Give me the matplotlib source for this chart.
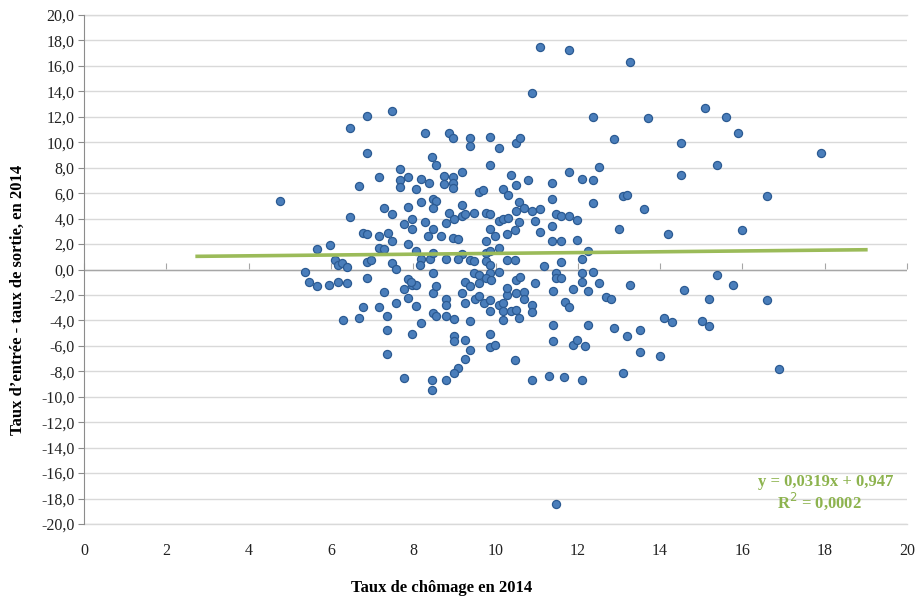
import numpy as np
import matplotlib
matplotlib.use('Agg')
import matplotlib.pyplot as plt
from matplotlib.ticker import FuncFormatter, MultipleLocator

# Taux de chômage en 2014 (x) / taux d'entrée - taux de sortie (y)
chomage = [
    7.48, 6.88, 6.47, 8.28, 6.88, 8.46, 8.56, 7.69, 7.18, 7.87, 7.69, 8.20, 8.38, 7.69, 6.68, 8.07,
    4.77, 8.48, 8.56, 8.20, 8.48, 7.87, 7.28, 7.48, 6.47, 7.97, 7.77, 8.28, 7.97, 8.48, 6.78, 6.88,
    7.38, 7.18, 8.36, 7.48, 7.87, 5.97, 5.66, 7.18, 7.28, 8.07, 6.09, 6.17, 6.28, 6.38, 6.88, 6.98,
    7.48, 8.20, 8.40, 8.48, 8.16, 5.38,
    7.57, 5.47, 5.66, 5.95, 6.17, 6.38, 6.88, 8.48, 7.87, 7.98, 8.07, 7.95, 7.77, 7.28, 7.57, 7.87,
    8.07, 8.48, 8.56, 6.78, 7.18, 7.37, 6.68, 6.29, 8.48, 8.56, 8.18, 7.37, 7.97, 7.37, 7.77, 8.46,
    8.46,
    11.09, 11.78, 10.89, 12.38, 8.87, 8.96, 9.37, 9.37, 9.87, 10.08, 10.49, 10.60, 9.87, 9.18, 8.76,
    8.96, 8.96, 8.76, 8.96, 10.38, 10.49, 10.78, 11.38, 11.78, 12.10, 9.59, 9.69, 10.19, 10.30, 10.58,
    11.38, 9.18, 10.70, 10.89, 11.09, 8.88, 8.98, 9.18, 9.27, 9.47, 9.77, 9.87, 10.08, 10.19, 10.30,
    10.49, 10.58, 10.97, 11.47, 11.59, 11.78, 11.98, 8.79, 8.68, 8.96, 9.08, 9.87, 9.98, 10.27, 10.48,
    11.09, 11.38, 9.77, 10.08, 11.38, 11.59, 11.98, 9.18, 9.77, 9.87, 12.26, 8.79, 9.08, 9.38, 9.47,
    9.77, 9.87, 10.27, 10.48, 11.19, 11.59, 12.10,
    9.47, 9.59, 9.87, 10.08, 9.77, 9.89, 10.49, 10.60, 10.97, 11.47, 11.47, 11.59, 12.10, 12.10, 8.79,
    8.79, 9.27, 9.38, 9.18, 9.27, 9.59, 9.49, 9.59, 9.71, 9.87, 9.87, 10.08, 10.18, 10.18, 10.27,
    10.27, 10.49, 10.69, 10.69, 10.88, 10.88, 10.38, 10.49, 10.58, 11.39, 11.69, 11.78, 11.88, 12.24,
    8.79, 8.98, 9.39, 10.18, 11.39, 12.24, 8.98, 8.98, 9.27, 9.39, 9.27, 9.08, 8.98, 8.79, 9.87,
    9.87, 9.98, 10.48, 11.39, 11.89, 11.99, 12.18, 10.89, 11.29, 11.67, 12.10, 11.46,
    13.28, 13.70, 15.10, 15.60, 15.90, 12.89, 14.51, 17.90, 12.51, 12.38, 14.51, 15.38, 12.38, 13.09,
    13.19, 13.60, 16.59, 12.99, 14.18, 15.99,
    12.38, 12.51, 13.28, 15.38, 15.78, 14.59, 12.69, 12.81, 15.19, 16.59, 12.89, 13.19, 13.50, 14.10,
    14.29, 15.01, 15.19, 13.50, 14.00, 13.09, 16.89,
]
solde = [
    12.46, 12.07, 11.10, 10.76, 9.13, 8.82, 8.19, 7.87, 7.24, 7.30, 7.03, 7.09, 6.83, 6.51, 6.59, 6.30,
    5.38, 5.56, 5.38, 5.30, 4.86, 4.94, 4.80, 4.33, 4.15, 3.99, 3.60, 3.73, 3.15, 3.20, 2.89, 2.76,
    2.89, 2.62, 2.67, 2.23, 1.97, 1.91, 1.63, 1.71, 1.63, 1.44, 0.73, 0.39, 0.52, 0.21, 0.58, 0.73,
    0.52, 0.79, 0.84, 1.31, 0.39, -0.20,
    0.06, -1.00, -1.31, -1.18, -1.00, -1.10, -0.66, -0.31, -0.73, -1.18, -1.18, -0.95, -1.52, -1.76, -2.62, -2.23,
    -2.83, -1.84, -1.31, -2.97, -2.97, -3.68, -3.81, -3.94, -3.41, -3.68, -4.20, -4.72, -5.04, -6.61, -8.53, -8.71,
    -9.50,
    17.46, 17.24, 13.86, 12.00, 10.76, 10.37, 10.31, 9.71, 10.45, 9.55, 9.97, 10.31, 8.21, 7.69, 7.35,
    7.30, 6.83, 6.75, 6.43, 7.43, 6.64, 7.03, 6.83, 7.66, 7.14, 6.09, 6.24, 6.35, 5.85, 5.33,
    5.51, 5.06, 4.80, 4.59, 4.72, 4.46, 3.94, 4.20, 4.39, 4.46, 4.46, 4.33, 3.80, 3.99, 4.02,
    4.59, 3.73, 3.80, 4.33, 4.20, 4.20, 3.86, 3.62, 2.67, 2.49, 2.36, 3.15, 2.62, 2.76, 3.10,
    2.94, 3.41, 2.23, 1.71, 2.23, 2.23, 2.31, 1.18, 1.31, 1.44, 1.44, 0.79, 0.84, 0.73, 0.66,
    0.66, 0.39, 0.73, 0.73, 0.26, 0.58, 0.79,
    -0.26, -0.47, -0.31, -0.21, -0.65, -0.79, -0.79, -0.57, -1.05, -0.31, -0.65, -0.65, -0.31, -1.00, -2.31,
    -2.76, -1.00, -1.26, -1.84, -2.62, -1.10, -2.31, -2.05, -2.62, -2.36, -3.28, -2.76, -2.62, -3.28, -1.97,
    -1.44, -1.84, -1.79, -2.31, -2.76, -3.36, -3.28, -3.20, -3.80, -1.71, -2.57, -2.97, -1.57, -1.71,
    -3.62, -3.88, -4.02, -3.94, -4.33, -4.33, -5.20, -5.65, -5.57, -6.30, -7.03, -7.74, -8.14, -8.71, -5.04,
    -6.09, -5.91, -7.09, -5.65, -5.91, -5.57, -6.04, -8.71, -8.40, -8.45, -8.71, -18.40,
    16.32, 11.94, 12.73, 12.02, 10.71, 10.24, 9.92, 9.19, 8.09, 7.01, 7.40, 8.19, 5.20, 5.77,
    5.85, 4.78, 5.77, 3.20, 2.76, 3.10,
    -0.21, -1.10, -1.23, -0.47, -1.23, -1.65, -2.15, -2.28, -2.28, -2.41, -4.59, -5.20, -4.78, -3.80,
    -4.12, -4.07, -4.46, -6.51, -6.82, -8.14, -7.82,
]

# courbe de tendance (Excel)
pente = 0.0319
ordonnee = 0.947
tendance_x = [2.75, 19.0]

x_ticks = list(range(0, 21, 2))

plt.rcParams['font.family'] = ['Liberation Serif', 'DejaVu Serif']

fig = plt.figure(figsize=(9.2, 5.98), dpi=100)
ax = fig.add_axes([84 / 920, 1 - 524 / 598, (907 - 84) / 920, (524 - 15) / 598])

ax.set_xlim(0, 20)
ax.set_ylim(-20, 20)
ax.yaxis.set_major_locator(MultipleLocator(2))
ax.set_xticks(x_ticks)
ax.yaxis.set_major_formatter(FuncFormatter(lambda v, p: '{:.1f}'.format(v).replace('.', ',')))
ax.grid(axis='y', color='#d9d9d9', linewidth=1.0)
ax.set_axisbelow(True)
for yb in (-20, 20):
    ax.axhline(yb, color='#d9d9d9', linewidth=1.0, clip_on=False, zorder=0)

for s in ['top', 'right', 'bottom']:
    ax.spines[s].set_visible(False)
ax.spines['left'].set_color('#8c8c8c')
ax.tick_params(axis='y', direction='out', length=4, color='#8c8c8c', labelsize=11.5,
               labelcolor='#222222', pad=3)
ax.tick_params(axis='x', length=0, labelsize=11.5, labelcolor='#222222', pad=14)

# axe horizontal à y = 0 avec graduations
ax.axhline(0, color='#a6a6a6', linewidth=1.0, zorder=1)
sec = ax.secondary_xaxis(0.5)
sec.set_xticks(x_ticks)
sec.set_xticklabels([])
for sp in sec.spines.values():
    sp.set_visible(False)
sec.tick_params(direction='out', length=4, color='#a6a6a6')

ax.scatter(chomage, solde, s=34, facecolor='#4a7ebb', edgecolor='#2b5a92', linewidth=0.9, zorder=3)

tx = np.array(tendance_x)
ax.plot(tx, pente * tx + ordonnee, color='#9bbb59', linewidth=2.6, zorder=4)

ax.text(0.983, 0.083, 'y = 0,0319x + 0,947', transform=ax.transAxes, ha='right', va='center',
        fontsize=12, fontweight='bold', color='#8db34e')
ax.text(0.945, 0.044, 'R$^2$ = 0,0002', transform=ax.transAxes, ha='right', va='center',
        fontsize=12, fontweight='bold', color='#8db34e')

fig.text(442 / 920, 1 - 588 / 598, 'Taux de chômage en 2014', ha='center', va='center',
         fontsize=12, fontweight='bold')
fig.text(18 / 920, 1 - 300 / 598, 'Taux d’entrée - taux de sortie, en 2014', ha='center',
         va='center', rotation=90, fontsize=12, fontweight='bold')

fig.savefig('out.png', dpi=100)
